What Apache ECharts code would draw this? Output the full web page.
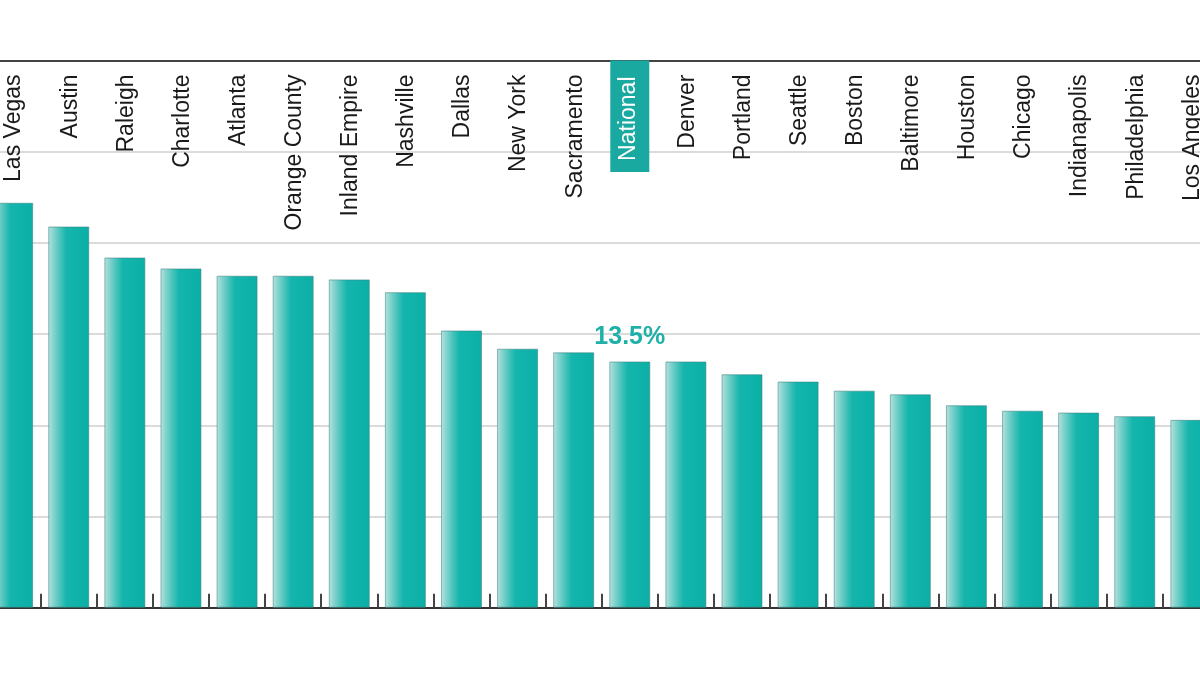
<!DOCTYPE html>
<html>
<head>
<meta charset="utf-8">
<script src="https://cdn.jsdelivr.net/npm/echarts@6/dist/echarts.min.js"></script>
<style>
html,body{margin:0;padding:0;background:#fff;}
#chart{width:1200px;height:675px;}
</style>
</head>
<body>
<div id="chart"></div>
<script>
const categories = ['Las Vegas','Austin','Raleigh','Charlotte','Atlanta','Orange County','Inland Empire','Nashville','Dallas','New York','Sacramento','National','Denver','Portland','Seattle','Boston','Baltimore','Houston','Chicago','Indianapolis','Philadelphia','Los Angeles'];
const values = [22.2,20.9,19.2,18.6,18.2,18.2,18.0,17.3,15.2,14.2,14.0,13.5,13.5,12.8,12.4,11.9,11.7,11.1,10.8,10.7,10.5,10.3];
const highlight = 'National';
const highlightLabel = '13.5%';
const yMin = 0, yMax = 30, yStep = 5;

const barColor = {
  type: 'linear', x: 0, y: 0, x2: 1, y2: 0,
  colorStops: [
    {offset: 0, color: '#b8e5e2'},
    {offset: 0.1, color: '#8fd6d1'},
    {offset: 0.3, color: '#45c2ba'},
    {offset: 0.45, color: '#14b5ac'},
    {offset: 1, color: '#0bafa6'}
  ]
};

const barData = values.map((v, i) => categories[i] === highlight ? {
  value: v,
  label: {
    show: true, position: 'top', distance: 12,
    formatter: highlightLabel,
    color: '#1fb0a8', fontSize: 25, fontWeight: 'bold',
    fontFamily: 'Liberation Sans, Arial, sans-serif'
  }
} : v);

const chart = echarts.init(document.getElementById('chart'));
chart.setOption({
  animation: false,
  backgroundColor: '#fff',
  grid: {left: -15.4, right: -18.9, top: 60.5, bottom: 67.3, containLabel: false, outerBoundsMode: 'none'},
  xAxis: [{
    type: 'category', data: categories, position: 'bottom',
    axisLine: {show: true, lineStyle: {color: '#333', width: 2}},
    axisTick: {show: true, inside: true, interval: 0, length: 14, lineStyle: {color: '#444', width: 2}},
    axisLabel: {show: false},
    splitLine: {show: false}
  }, {
    type: 'category', data: categories, position: 'top',
    axisLine: {show: true, lineStyle: {color: '#444', width: 2}},
    axisTick: {show: false},
    axisLabel: {
      show: true, inside: true, rotate: -90, margin: 0, interval: 0,
      fontFamily: 'Liberation Sans, Arial, sans-serif', fontSize: 23, color: '#1a1a1a',
      formatter: (v) => v === highlight ? '{hl|' + v + '}' : '{n|' + v + '}',
      rich: {
        n: {fontSize: 23, color: '#1a1a1a', lineHeight: 26, padding: [11, 14, 8, 11], fontFamily: 'Liberation Sans, Arial, sans-serif'},
        hl: {fontSize: 23, color: '#ffffff', lineHeight: 26, padding: [7, 16, 9, 11], backgroundColor: '#1aa9a0', fontFamily: 'Liberation Sans, Arial, sans-serif'}
      }
    },
    splitLine: {show: false}
  }],
  yAxis: {
    type: 'value', min: yMin, max: yMax, interval: yStep,
    axisLine: {show: false}, axisTick: {show: false}, axisLabel: {show: false},
    splitLine: {show: true, lineStyle: {color: '#cfcfcf', width: 1.5}}
  },
  series: [{
    type: 'bar', data: barData, barWidth: 41,
    itemStyle: {color: barColor, borderColor: 'rgba(60,130,125,0.55)', borderWidth: 1}
  }]
});
</script>
</body>
</html>
